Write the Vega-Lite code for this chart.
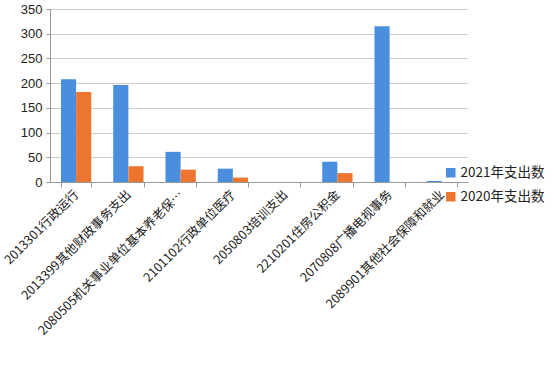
{
  "$schema": "https://vega.github.io/schema/vega-lite/v6.json",
  "width": 418,
  "height": 173,
  "autosize": {"type": "none"},
  "padding": {"left": 50, "top": 9, "right": 86, "bottom": 191},
  "background": "white",
  "data": {
    "values": [
      {"cat": "2013301行政运行", "series": "2021年支出数", "v": 208},
      {"cat": "2013301行政运行", "series": "2020年支出数", "v": 182},
      {"cat": "2013399其他财政事务支出", "series": "2021年支出数", "v": 196},
      {"cat": "2013399其他财政事务支出", "series": "2020年支出数", "v": 32},
      {"cat": "2080505机关事业单位基本养老保…", "series": "2021年支出数", "v": 61},
      {"cat": "2080505机关事业单位基本养老保…", "series": "2020年支出数", "v": 25},
      {"cat": "2101102行政单位医疗", "series": "2021年支出数", "v": 27},
      {"cat": "2101102行政单位医疗", "series": "2020年支出数", "v": 9},
      {"cat": "2050803培训支出", "series": "2021年支出数", "v": 0},
      {"cat": "2050803培训支出", "series": "2020年支出数", "v": 0},
      {"cat": "2210201住房公积金", "series": "2021年支出数", "v": 41},
      {"cat": "2210201住房公积金", "series": "2020年支出数", "v": 18},
      {"cat": "2070808广播电视事务", "series": "2021年支出数", "v": 315},
      {"cat": "2070808广播电视事务", "series": "2020年支出数", "v": 0},
      {"cat": "2089901其他社会保障和就业", "series": "2021年支出数", "v": 2},
      {"cat": "2089901其他社会保障和就业", "series": "2020年支出数", "v": 0}
    ]
  },
  "mark": {"type": "bar"},
  "encoding": {
    "x": {
      "field": "cat",
      "type": "nominal",
      "sort": null,
      "title": null,
      "scale": {"paddingInner": 0.42, "paddingOuter": 0.21},
      "axis": {
        "labelAngle": -45,
        "labelAlign": "right",
        "labelBaseline": "middle",
        "labelFont": "Noto Sans CJK SC",
        "labelFontSize": 12.5,
        "labelColor": "#222222",
        "labelLimit": 300,
        "labelPadding": 5,
        "tickBand": "extent",
        "tickSize": 5,
        "tickColor": "#999999",
        "domainColor": "#999999",
        "grid": false
      }
    },
    "xOffset": {
      "field": "series",
      "type": "nominal",
      "sort": ["2021年支出数", "2020年支出数"]
    },
    "y": {
      "field": "v",
      "type": "quantitative",
      "title": null,
      "scale": {"domain": [0, 350], "nice": false},
      "axis": {
        "values": [0, 50, 100, 150, 200, 250, 300, 350],
        "labelFont": "Liberation Sans",
        "labelFontSize": 13,
        "labelColor": "#222222",
        "labelPadding": 4,
        "tickSize": 4,
        "tickColor": "#999999",
        "domainColor": "#999999",
        "gridColor": "#999999",
        "gridDash": [1, 1]
      }
    },
    "color": {
      "field": "series",
      "type": "nominal",
      "sort": ["2021年支出数", "2020年支出数"],
      "scale": {"domain": ["2021年支出数", "2020年支出数"], "range": ["#4A8FDD", "#EC7630"]},
      "legend": {
        "title": null,
        "orient": "none",
        "legendX": 394,
        "legendY": 157,
        "symbolType": "square",
        "symbolSize": 90,
        "symbolStrokeWidth": 0,
        "labelFont": "Noto Sans CJK SC",
        "labelFontSize": 13.5,
        "labelColor": "#222222",
        "rowPadding": 9,
        "labelOffset": 3
      }
    }
  },
  "config": {"view": {"stroke": null}}
}
